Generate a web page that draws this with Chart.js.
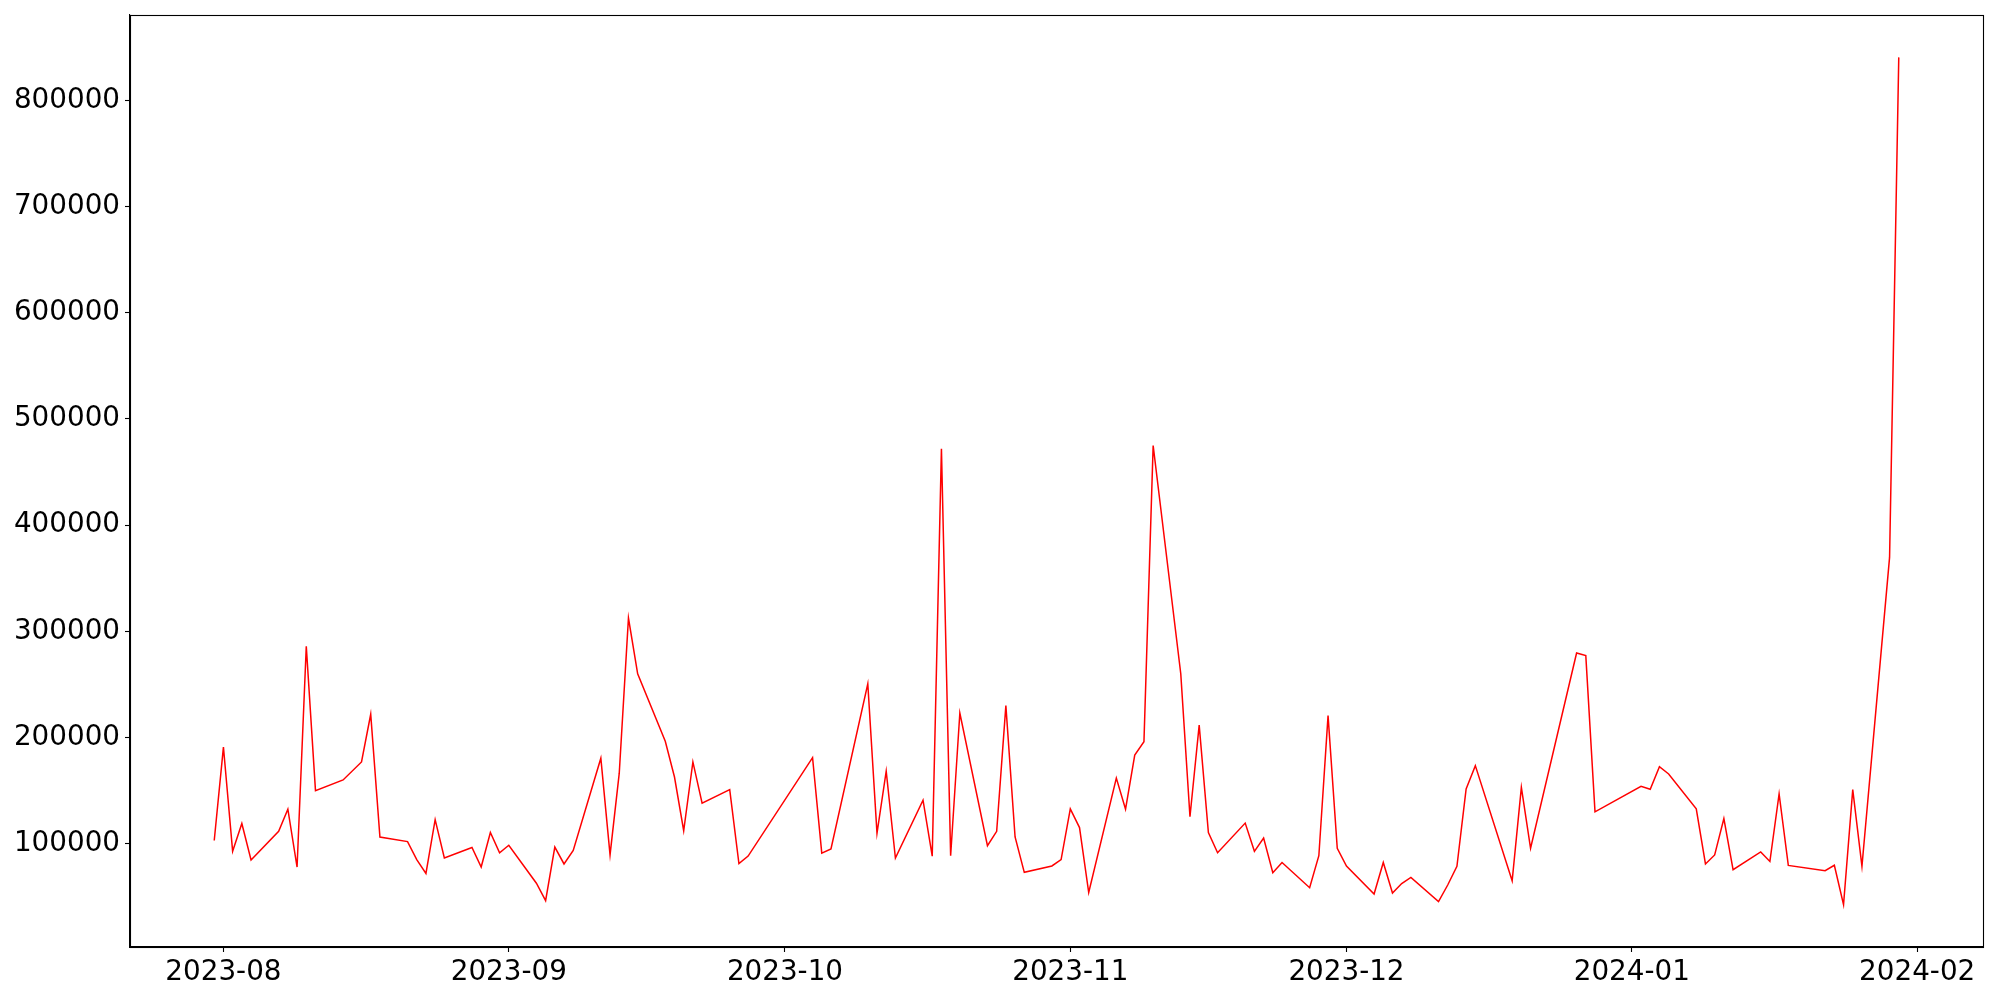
<!DOCTYPE html>
<html>
<head>
<meta charset="utf-8">
<script src="https://cdn.jsdelivr.net/npm/chart.js@4/dist/chart.umd.min.js"></script>
<style>
  html, body { margin: 0; padding: 0; background: #fff; }
  #wrap { width: 2000px; height: 1000px; }
</style>
</head>
<body>
<div id="wrap"><canvas id="c" width="2000" height="1000"></canvas></div>
<script>
const dates = [
  '2023-07-31','2023-08-01','2023-08-02','2023-08-03','2023-08-04',
  '2023-08-07','2023-08-08','2023-08-09','2023-08-10','2023-08-11',
  '2023-08-14','2023-08-16','2023-08-17','2023-08-18',
  '2023-08-21','2023-08-22','2023-08-23','2023-08-24','2023-08-25',
  '2023-08-28','2023-08-29','2023-08-30','2023-08-31','2023-09-01',
  '2023-09-04','2023-09-05','2023-09-06','2023-09-07','2023-09-08',
  '2023-09-11','2023-09-12','2023-09-13','2023-09-14','2023-09-15',
  '2023-09-18','2023-09-19','2023-09-20','2023-09-21','2023-09-22',
  '2023-09-25','2023-09-26','2023-09-27',
  '2023-10-04','2023-10-05','2023-10-06',
  '2023-10-10','2023-10-11','2023-10-12','2023-10-13',
  '2023-10-16','2023-10-17','2023-10-18','2023-10-19','2023-10-20',
  '2023-10-23','2023-10-24','2023-10-25','2023-10-26','2023-10-27',
  '2023-10-30','2023-10-31','2023-11-01','2023-11-02','2023-11-03',
  '2023-11-06','2023-11-07','2023-11-08','2023-11-09','2023-11-10',
  '2023-11-13','2023-11-14','2023-11-15','2023-11-16','2023-11-17',
  '2023-11-20','2023-11-21','2023-11-22','2023-11-23','2023-11-24',
  '2023-11-27','2023-11-28','2023-11-29','2023-11-30','2023-12-01',
  '2023-12-04','2023-12-05','2023-12-06','2023-12-07','2023-12-08',
  '2023-12-11','2023-12-12','2023-12-13','2023-12-14','2023-12-15',
  '2023-12-19','2023-12-20','2023-12-21',
  '2023-12-26','2023-12-27','2023-12-28',
  '2024-01-02','2024-01-03','2024-01-04','2024-01-05',
  '2024-01-08','2024-01-09','2024-01-10','2024-01-11','2024-01-12',
  '2024-01-15','2024-01-16','2024-01-17','2024-01-18',
  '2024-01-22','2024-01-23','2024-01-24','2024-01-25','2024-01-26',
  '2024-01-29','2024-01-30'
];
const values = [
  103000,191000,92800,119000,84700,
  111600,132500,78000,285900,150000,
  160000,177000,221900,106300,
  102000,85000,72000,122600,86500,
  96400,78000,110500,91500,98500,
  62800,46300,96800,80900,93600,
  180500,89400,166400,312500,260000,
  196500,162800,112200,177000,138200,
  150900,81200,88300,
  181000,91100,95000,
  250600,109800,168200,86500,
  141000,88300,472000,88700,223000,
  98100,111600,230000,106300,73000,
  79000,85000,132800,115200,54000,
  161800,132500,183400,196100,475000,
  260000,125400,211600,110500,91500,
  119400,92800,105300,72700,82300,
  58500,88700,220600,95700,79000,
  52600,82300,53600,62500,68200,
  45500,61100,78700,151500,173500,
  65000,153000,95700,
  279600,277100,130000,
  154000,151300,172500,165700,
  132800,80900,89400,123600,75500,
  92200,83300,146900,79500,
  74600,79700,42600,150900,78700,
  369600,840500
];
const xTickLabels = ['2023-08','2023-09','2023-10','2023-11','2023-12','2024-01','2024-02'];
const yTickValues = [100000,200000,300000,400000,500000,600000,700000,800000];

function toTs(s) {
  const p = s.split('-').map(Number);
  return Date.UTC(p[0], p[1] - 1, p[2] || 1);
}
const xs = dates.map(toTs);
const points = xs.map((x, i) => ({ x: x, y: values[i] }));
const xTickValues = xTickLabels.map(toTs);

const xMinD = Math.min(...xs), xMaxD = Math.max(...xs);
const xPad = (xMaxD - xMinD) * 0.05;
const yMinD = Math.min(...values), yMaxD = Math.max(...values);
const yPad = (yMaxD - yMinD) * 0.05;

const font = { family: 'DejaVu Sans', size: 27.8 };

const boxPlugin = {
  id: 'box',
  afterDraw(chart) {
    const a = chart.chartArea, ctx = chart.ctx;
    ctx.save();
    ctx.strokeStyle = '#000';
    ctx.lineWidth = 1.1;
    ctx.strokeRect(Math.round(a.left) + 0.5, Math.round(a.top) + 0.5,
                   Math.round(a.right - a.left), Math.round(a.bottom - a.top));
    ctx.restore();
  }
};

function noEdgePad(scale) {
  scale.paddingTop = 0; scale.paddingBottom = 0;
  scale.paddingLeft = 0; scale.paddingRight = 0;
}

new Chart(document.getElementById('c'), {
  type: 'line',
  data: {
    datasets: [{
      data: points,
      borderColor: '#ff0000',
      borderWidth: 1.5,
      pointRadius: 0,
      fill: false,
      tension: 0
    }]
  },
  options: {
    responsive: false,
    animation: false,
    layout: { padding: { top: 15, right: 17, left: 0, bottom: 0 } },
    plugins: { legend: { display: false }, tooltip: { enabled: false } },
    scales: {
      x: {
        type: 'linear',
        min: xMinD - xPad,
        max: xMaxD + xPad,
        afterBuildTicks: (scale) => { scale.ticks = xTickValues.map(v => ({ value: v })); },
        afterFit: (scale) => { scale.height = 53; noEdgePad(scale); },
        ticks: {
          autoSkip: false,
          maxRotation: 0,
          minRotation: 0,
          padding: 4,
          color: '#000',
          font: font,
          callback: (v) => {
            const i = xTickValues.indexOf(v);
            return i >= 0 ? xTickLabels[i] : '';
          }
        },
        grid: { drawOnChartArea: false, drawTicks: true, tickLength: 5, tickColor: '#000', tickWidth: 1.1 },
        border: { display: true, color: '#000', width: 1.1 }
      },
      y: {
        type: 'linear',
        min: yMinD - yPad,
        max: yMaxD + yPad,
        afterBuildTicks: (scale) => { scale.ticks = yTickValues.map(v => ({ value: v })); },
        afterFit: (scale) => { scale.width = 130; noEdgePad(scale); },
        ticks: {
          autoSkip: false,
          padding: 5,
          color: '#000',
          font: font,
          callback: (v) => String(v)
        },
        grid: { drawOnChartArea: false, drawTicks: true, tickLength: 5, tickColor: '#000', tickWidth: 1.1 },
        border: { display: true, color: '#000', width: 1.1 }
      }
    }
  },
  plugins: [boxPlugin]
});
</script>
</body>
</html>
